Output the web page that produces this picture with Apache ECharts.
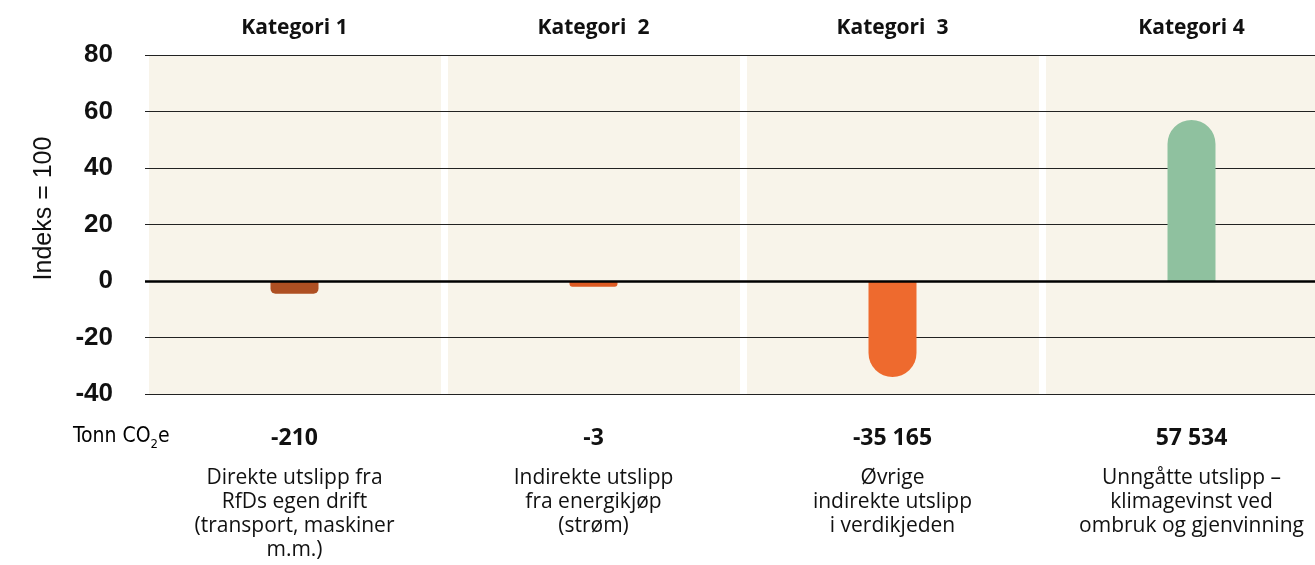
<!DOCTYPE html>
<html>
<head>
<meta charset="utf-8">
<script src="https://cdn.jsdelivr.net/npm/echarts@6/dist/echarts.min.js"></script>
<style>
  html, body { margin: 0; padding: 0; overflow: hidden; background: #fff; }
  #chart { width: 1345px; height: 565px; }
</style>
</head>
<body>
<div id="chart"></div>
<script>
// data
const categories = ['Kategori 1', 'Kategori  2', 'Kategori  3', 'Kategori 4'];
const indexValues = [-4.5, -2, -34, 57];
const tonnValues = ['-210', '-3', '-35 165', '57 534'];
const descriptions = [
  ['Direkte utslipp fra', 'RfDs egen drift', '(transport, maskiner', 'm.m.)'],
  ['Indirekte utslipp', 'fra energikjøp', '(strøm)'],
  ['Øvrige', 'indirekte utslipp', 'i verdikjeden'],
  ['Unngåtte utslipp –', 'klimagevinst ved', 'ombruk og gjenvinning']
];
const yTicks = { min: -40, max: 80, interval: 20 };

const barColors = ['#AE4F22', '#DD5A22', '#EE6A2E', '#8FC19F'];
const barRadius = [[0, 0, 5, 5], [0, 0, 3, 3], [0, 0, 24, 24], [24, 24, 0, 0]];

const txtFont = '"Open Sans", Roboto, sans-serif';
const numFont = '"Liberation Sans", Arial, sans-serif';
const narrowFont = '"Liberation Sans Narrow", "DejaVu Sans Condensed", "Liberation Sans", sans-serif';

const myChart = echarts.init(document.getElementById('chart'));

// bottom label: tonn value + description
function bottomLabel(v, i) {
  let s = '{v|' + tonnValues[i] + '}\n{s| }';
  descriptions[i].forEach(function (line) {
    s += '\n{d|' + line + '}';
  });
  return s;
}

let option = {
  animation: false,
  grid: { left: 145, top: 55, width: 1196, height: 339, outerBoundsMode: 'none', containLabel: false },
  xAxis: [{
    type: 'category',
    data: categories,
    position: 'top',
    z: 0,
    axisLine: { show: false },
    axisTick: { show: false },
    axisLabel: {
      margin: 16,
      color: '#111',
      fontFamily: txtFont,
      fontWeight: 'bold',
      fontSize: 21
    },
    splitArea: { show: true, areaStyle: { color: ['#F8F4EA'] } },
    splitLine: { show: true, interval: 0, lineStyle: { color: '#fff', width: 7 } }
  }, {
    type: 'category',
    data: categories,
    position: 'bottom',
    axisLine: { show: false },
    axisTick: { show: false },
    axisLabel: {
      margin: 32,
      interval: 0,
      formatter: bottomLabel,
      rich: {
        v: { fontFamily: txtFont, fontWeight: 'bold', fontSize: 23, lineHeight: 24, color: '#111' },
        s: { fontSize: 10, lineHeight: 16 },
        d: { fontFamily: txtFont, fontSize: 21, lineHeight: 24, color: '#111' }
      }
    }
  }],
  yAxis: {
    type: 'value',
    min: yTicks.min,
    max: yTicks.max,
    interval: yTicks.interval,
    z: 1,
    name: 'Indeks = 100',
    nameLocation: 'middle',
    nameRotate: 90,
    nameGap: 88,
    nameTextStyle: { fontFamily: numFont, fontSize: 25, color: '#111', padding: [0, 0, 0, 32] },
    axisLine: { show: false },
    axisTick: { show: false },
    axisLabel: {
      margin: 32,
      color: '#111',
      fontFamily: numFont,
      fontWeight: 'bold',
      fontSize: 26
    },
    splitLine: { lineStyle: { color: '#222', width: 1 } }
  },
  graphic: [{
    type: 'text',
    left: 73,
    top: 426,
    style: {
      text: '{a|Tonn CO}{b|2}{a|e}',
      rich: {
        a: { fontFamily: narrowFont, fontSize: 21, color: '#111', verticalAlign: 'bottom' },
        b: { fontFamily: narrowFont, fontSize: 13, color: '#111', verticalAlign: 'bottom', padding: [0, 0, -4, 0] }
      }
    }
  }],
  series: [{
    type: 'bar',
    z: 2,
    barWidth: 48,
    data: indexValues.map(function (v, i) {
      return {
        value: v,
        itemStyle: { color: barColors[i], borderRadius: barRadius[i] }
      };
    }),
    markLine: {
      silent: true,
      symbol: 'none',
      label: { show: false },
      lineStyle: { color: '#000', width: 2.5, type: 'solid' },
      data: [{ yAxis: 0 }]
    }
  }]
};

myChart.setOption(option);
</script>
</body>
</html>
